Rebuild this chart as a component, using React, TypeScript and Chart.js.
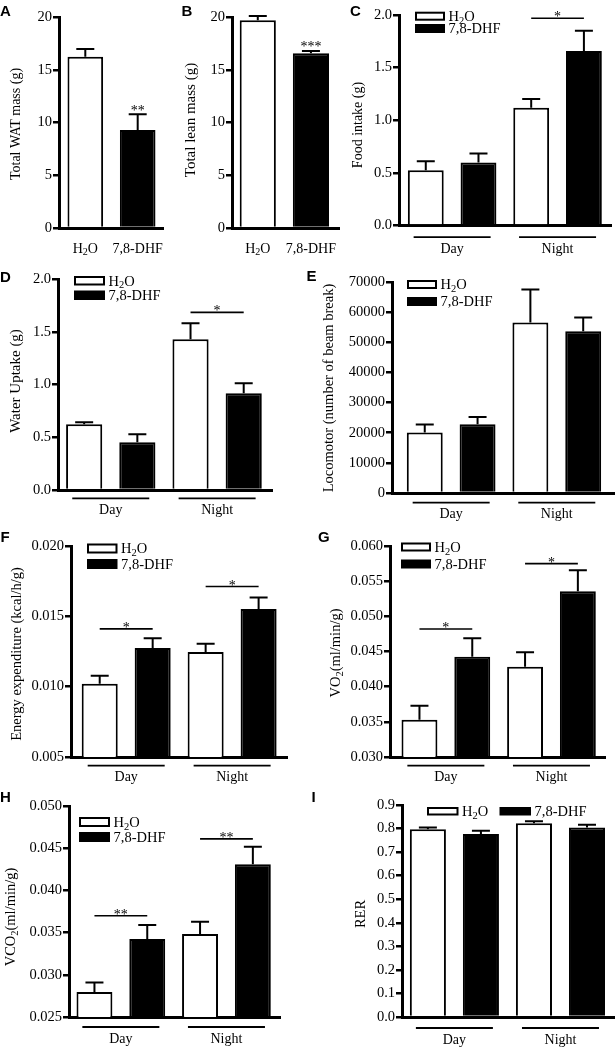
import React, { useEffect, useRef } from 'react';
import { Chart, registerables } from 'chart.js';

Chart.register(...registerables);

const SERIF = '"Liberation Serif", "Times New Roman", Times, serif';
const SANS = '"Liberation Sans", Arial, Helvetica, sans-serif';

// ---------------- data ----------------
const treatments = ['H_2O', '7,8-DHF'];
const periods = ['Day', 'Night'];

// A: total WAT mass (g)
const watMass = [16.24, 9.29];
const watMassSem = [0.73, 1.49];
const watStars = ['', '**'];

// B: total lean mass (g)
const leanMass = [19.7, 16.56];
const leanMassSem = [0.4, 0.22];
const leanStars = ['', '***'];

// C: food intake (g)
const foodH2O = [0.526, 1.118];
const foodH2OSem = [0.085, 0.083];
const foodDHF = [0.599, 1.658];
const foodDHFSem = [0.086, 0.193];
const foodSig = [null, 1.969];
const foodStars = ['', '*'];

// D: water uptake (g)
const waterH2O = [0.623, 1.428];
const waterH2OSem = [0.019, 0.152];
const waterDHF = [0.452, 0.917];
const waterDHFSem = [0.076, 0.094];
const waterSig = [null, 1.684];
const waterStars = ['', '*'];

// E: locomotor (beam breaks)
const locoH2O = [20040, 56530];
const locoH2OSem = [2650, 10950];
const locoDHF = [22790, 53650];
const locoDHFSem = [2430, 4540];
const locoSig = [null, null];
const locoStars = ['', ''];

// F: energy expenditure (kcal/h/g)
const eeH2O = [0.01021, 0.01246];
const eeH2OSem = [0.00056, 0.00059];
const eeDHF = [0.01274, 0.01553];
const eeDHFSem = [0.00071, 0.00081];
const eeSig = [0.01411, 0.01712];
const eeStars = ['*', '*'];

// G: VO2 (ml/min/g)
const vo2H2O = [0.03529, 0.04284];
const vo2H2OSem = [0.00198, 0.00205];
const vo2DHF = [0.04426, 0.05358];
const vo2DHFSem = [0.00261, 0.00297];
const vo2Sig = [0.0482, 0.0575];
const vo2Stars = ['*', '*'];

// H: VCO2 (ml/min/g)
const vco2H2O = [0.02795, 0.03484];
const vco2H2OSem = [0.00114, 0.00146];
const vco2DHF = [0.03425, 0.04311];
const vco2DHFSem = [0.00165, 0.00205];
const vco2Sig = [0.037, 0.0461];
const vco2Stars = ['**', '**'];

// I: RER
const rerH2O = [0.797, 0.822];
const rerH2OSem = [0.008, 0.009];
const rerDHF = [0.777, 0.805];
const rerDHFSem = [0.014, 0.011];
const rerSig = [null, null];
const rerStars = ['', ''];

// ---------------- layout / styling ----------------
type Legend = { w: number; h: number; items: [number, number][] };
type PanelCfg = {
  letter: string;
  letterAt: [number, number];
  box: [number, number, number, number];
  plot: [number, number, number, number];
  xRange: [number, number];
  y: [number, number, number, number];
  title: string;
  titleAt: [number, number];
  titleSize: number;
  kind: 'pair' | 'grouped';
  means?: number[];
  sems?: number[];
  stars?: string[];
  h2o?: number[];
  h2oSem?: number[];
  dhf?: number[];
  dhfSem?: number[];
  sig?: (number | null)[];
  sigStars?: string[];
  legend?: Legend;
  under?: [number, number];
  labelDy?: number;
};

const panels: PanelCfg[] = [
  {
    letter: 'A', letterAt: [0, 15.5], box: [0, 0, 172, 262], plot: [59, 163, 17, 228],
    xRange: [0.498, 2.483], y: [0, 20, 5, 0],
    title: 'Total WAT mass (g)', titleAt: [15, 124], titleSize: 14,
    kind: 'pair', means: watMass, sems: watMassSem, stars: watStars, labelDy: 20,
  },
  {
    letter: 'B', letterAt: [181.5, 15.5], box: [172, 0, 178, 262], plot: [232, 339, 17, 228],
    xRange: [0.515, 2.528], y: [0, 20, 5, 0],
    title: 'Total lean mass (g)', titleAt: [190, 120], titleSize: 15,
    kind: 'pair', means: leanMass, sems: leanMassSem, stars: leanStars, labelDy: 20,
  },
  {
    letter: 'C', letterAt: [350, 15.5], box: [350, 0, 265, 262], plot: [399, 611, 15, 225.5],
    xRange: [0.496, 2.507], y: [0, 2, 0.5, 1],
    title: 'Food intake (g)', titleAt: [357, 125], titleSize: 14,
    kind: 'grouped', h2o: foodH2O, h2oSem: foodH2OSem, dhf: foodDHF, dhfSem: foodDHFSem,
    sig: foodSig, sigStars: foodStars,
    legend: { w: 30, h: 9, items: [[415, 11.7], [415, 24]] }, under: [11.7, 22.7],
  },
  {
    letter: 'D', letterAt: [0, 282], box: [0, 262, 300, 266], plot: [58, 272, 279, 490],
    xRange: [0.504, 2.516], y: [0, 2, 0.5, 1],
    title: 'Water Uptake (g)', titleAt: [15, 381], titleSize: 15,
    kind: 'grouped', h2o: waterH2O, h2oSem: waterH2OSem, dhf: waterDHF, dhfSem: waterDHFSem,
    sig: waterSig, sigStars: waterStars,
    legend: { w: 31, h: 9.5, items: [[74, 276], [74, 290.5]] }, under: [8.3, 19],
  },
  {
    letter: 'E', letterAt: [306.5, 280.5], box: [300, 262, 315, 266], plot: [392, 615, 282, 493],
    xRange: [0.44, 2.551], y: [0, 70000, 10000, 0],
    title: 'Locomotor (number of beam break)', titleAt: [328, 388], titleSize: 14.5,
    kind: 'grouped', h2o: locoH2O, h2oSem: locoH2OSem, dhf: locoDHF, dhfSem: locoDHFSem,
    sig: locoSig, sigStars: locoStars,
    legend: { w: 30, h: 9, items: [[407, 280], [407, 297]] }, under: [9.6, 20],
  },
  {
    letter: 'F', letterAt: [0.5, 542], box: [0, 520, 300, 270], plot: [71, 287, 546, 757],
    xRange: [0.479, 2.518], y: [0.005, 0.02, 0.005, 3],
    title: 'Energy expenditure (kcal/h/g)', titleAt: [16, 654], titleSize: 14.5,
    kind: 'grouped', h2o: eeH2O, h2oSem: eeH2OSem, dhf: eeDHF, dhfSem: eeDHFSem,
    sig: eeSig, sigStars: eeStars,
    legend: { w: 30.5, h: 10, items: [[87, 543.5], [87, 559]] }, under: [8.7, 19.4],
  },
  {
    letter: 'G', letterAt: [318, 542], box: [300, 520, 315, 270], plot: [390, 605, 546, 757],
    xRange: [0.471, 2.507], y: [0.03, 0.06, 0.005, 3],
    title: 'VO_2(ml/min/g)', titleAt: [335, 653], titleSize: 14.5,
    kind: 'grouped', h2o: vo2H2O, h2oSem: vo2H2OSem, dhf: vo2DHF, dhfSem: vo2DHFSem,
    sig: vo2Sig, sigStars: vo2Stars,
    legend: { w: 30, h: 9, items: [[401, 542.5], [401, 559.5]] }, under: [8.7, 19.4],
  },
  {
    letter: 'H', letterAt: [0, 802], box: [0, 782, 300, 266], plot: [69, 280, 806, 1017],
    xRange: [0.509, 2.507], y: [0.025, 0.05, 0.005, 3],
    title: 'VCO_2(ml/min/g)', titleAt: [10, 917], titleSize: 14.5,
    kind: 'grouped', h2o: vco2H2O, h2oSem: vco2H2OSem, dhf: vco2DHF, dhfSem: vco2DHFSem,
    sig: vco2Sig, sigStars: vco2Stars,
    legend: { w: 31, h: 10, items: [[79, 817], [79, 832]] }, under: [10, 21],
  },
  {
    letter: 'I', letterAt: [311.5, 802], box: [300, 782, 315, 266], plot: [402, 615, 805, 1017],
    xRange: [0.506, 2.514], y: [0, 0.9, 0.1, 1],
    title: 'RER', titleAt: [360, 914], titleSize: 14.5,
    kind: 'grouped', h2o: rerH2O, h2oSem: rerH2OSem, dhf: rerDHF, dhfSem: rerDHFSem,
    sig: rerSig, sigStars: rerStars,
    legend: { w: 31.5, h: 8.5, items: [[427, 807], [499.5, 807]] }, under: [11, 22.7],
  },
];

// ---------------- text helpers ----------------
function parseRich(text: string) {
  const parts: { t: string; sub: boolean }[] = [];
  let buf = '';
  for (let i = 0; i < text.length; i++) {
    if (text[i] === '_' && i + 1 < text.length) {
      if (buf) parts.push({ t: buf, sub: false });
      buf = '';
      parts.push({ t: text[i + 1], sub: true });
      i++;
    } else buf += text[i];
  }
  if (buf) parts.push({ t: buf, sub: false });
  return parts;
}

function drawRich(
  ctx: CanvasRenderingContext2D,
  text: string,
  x: number,
  yMid: number,
  size: number,
  align: 'left' | 'center' | 'right',
) {
  const parts = parseRich(text);
  const subSize = size * 0.72;
  const widths = parts.map((p) => {
    ctx.font = `${p.sub ? subSize : size}px ${SERIF}`;
    return ctx.measureText(p.t).width;
  });
  const total = widths.reduce((a, b) => a + b, 0);
  let cx = align === 'center' ? x - total / 2 : align === 'right' ? x - total : x;
  const base = yMid + size * 0.33;
  ctx.textAlign = 'left';
  ctx.textBaseline = 'alphabetic';
  ctx.fillStyle = '#000';
  parts.forEach((p, i) => {
    ctx.font = `${p.sub ? subSize : size}px ${SERIF}`;
    ctx.fillText(p.t, cx, base + (p.sub ? size * 0.2 : 0));
    cx += widths[i];
  });
}

// ---------------- chart building ----------------
function makePlugin(p: PanelCfg) {
  const [bl, bt] = p.box;
  const seriesMeans = (di: number) => (p.kind === 'pair' ? p.means! : di === 0 ? p.h2o! : p.dhf!);
  const seriesSems = (di: number) => (p.kind === 'pair' ? p.sems! : di === 0 ? p.h2oSem! : p.dhfSem!);
  return {
    id: 'panelExtras',
    afterDatasetsDraw(chart: any) {
      const ctx: CanvasRenderingContext2D = chart.ctx;
      const ys = chart.scales.y;
      ctx.save();
      ctx.strokeStyle = '#000';
      ctx.lineWidth = 2;
      chart.data.datasets.forEach((_ds: any, di: number) => {
        const means = seriesMeans(di);
        const sems = seriesSems(di);
        chart.getDatasetMeta(di).data.forEach((el: any, j: number) => {
          const x = el.x;
          const y0 = el.y;
          const y1 = ys.getPixelForValue(means[j] + sems[j]);
          ctx.beginPath();
          ctx.moveTo(x, y0);
          ctx.lineTo(x, y1);
          ctx.moveTo(x - 9, y1);
          ctx.lineTo(x + 9, y1);
          ctx.stroke();
        });
      });
      ctx.restore();
    },
    afterDraw(chart: any) {
      const ctx: CanvasRenderingContext2D = chart.ctx;
      const ys = chart.scales.y;
      const bottom = chart.chartArea.bottom;
      ctx.save();
      ctx.fillStyle = '#000';
      ctx.strokeStyle = '#000';

      // panel letter
      ctx.font = `bold 15px ${SANS}`;
      ctx.textAlign = 'left';
      ctx.textBaseline = 'alphabetic';
      ctx.fillText(p.letter, p.letterAt[0] - bl, p.letterAt[1] - bt);

      // y title
      ctx.save();
      ctx.translate(p.titleAt[0] - bl, p.titleAt[1] - bt);
      ctx.rotate(-Math.PI / 2);
      drawRich(ctx, p.title, 0, 0, p.titleSize, 'center');
      ctx.restore();

      const starFont = `14px ${SERIF}`;

      if (p.kind === 'pair') {
        const meta = chart.getDatasetMeta(0);
        meta.data.forEach((el: any, j: number) => {
          drawRich(ctx, treatments[j], el.x, bottom + (p.labelDy || 20), 14, 'center');
          const star = p.stars![j];
          if (star) {
            const top = ys.getPixelForValue(p.means![j] + p.sems![j]);
            ctx.font = starFont;
            ctx.textAlign = 'center';
            ctx.textBaseline = 'alphabetic';
            ctx.fillStyle = '#000';
            ctx.fillText(star, el.x, top + 0.5);
          }
        });
      } else {
        const m0 = chart.getDatasetMeta(0).data;
        const m1 = chart.getDatasetMeta(1).data;
        const [uDy, lDy] = p.under!;
        periods.forEach((name, g) => {
          const c = (m0[g].x + m1[g].x) / 2;
          ctx.lineWidth = 1.8;
          ctx.beginPath();
          ctx.moveTo(c - 38.5, bottom + uDy);
          ctx.lineTo(c + 38.5, bottom + uDy);
          ctx.stroke();
          drawRich(ctx, name, c, bottom + lDy, 14, 'center');
          const lvl = p.sig![g];
          if (lvl !== null && lvl !== undefined) {
            const y = ys.getPixelForValue(lvl);
            ctx.lineWidth = 1.6;
            ctx.beginPath();
            ctx.moveTo(m0[g].x, y);
            ctx.lineTo(m1[g].x, y);
            ctx.stroke();
            ctx.font = starFont;
            ctx.textAlign = 'center';
            ctx.textBaseline = 'alphabetic';
            ctx.fillStyle = '#000';
            ctx.fillText(p.sigStars![g], (m0[g].x + m1[g].x) / 2, y + 3);
          }
        });

        // legend
        const lg = p.legend!;
        lg.items.forEach(([ax, ay], k) => {
          const x = ax - bl;
          const y = ay - bt;
          if (k === 0) {
            ctx.fillStyle = '#fff';
            ctx.fillRect(x, y, lg.w, lg.h);
            ctx.lineWidth = 2;
            ctx.strokeStyle = '#000';
            ctx.strokeRect(x + 1, y + 1, lg.w - 2, lg.h - 2);
          } else {
            ctx.fillStyle = '#000';
            ctx.fillRect(x, y, lg.w, lg.h);
          }
          drawRich(ctx, treatments[k], x + lg.w + 3.5, y + lg.h / 2, 14.5, 'left');
        });
      }
      ctx.restore();
    },
  };
}

function buildConfig(p: PanelCfg): any {
  const [bl, bt, bw, bh] = p.box;
  const [x0, x1, top, bot] = p.plot;
  const [yMin, yMax, yStep, yDec] = p.y;
  const barStyle = { borderColor: '#000', borderWidth: 2, categoryPercentage: 1, barPercentage: 0.68 };
  let datasets: any[];
  let xTicks: number[];
  if (p.kind === 'pair') {
    xTicks = treatments.map((_t, i) => i + 1);
    datasets = [
      {
        label: p.title,
        data: p.means!.map((v, i) => ({ x: i + 1, y: v })),
        backgroundColor: ['#ffffff', '#000000'],
        ...barStyle,
      },
    ];
  } else {
    xTicks = periods.map((_t, i) => i + 1);
    datasets = [
      { label: 'H2O', data: p.h2o!.map((v, i) => ({ x: i + 1, y: v })), backgroundColor: '#ffffff', ...barStyle },
      { label: '7,8-DHF', data: p.dhf!.map((v, i) => ({ x: i + 1, y: v })), backgroundColor: '#000000', ...barStyle },
    ];
  }
  return {
    type: 'bar',
    data: { datasets },
    options: {
      responsive: false,
      maintainAspectRatio: false,
      animation: false,
      devicePixelRatio: 1,
      events: [],
      layout: { padding: { left: 0, top: top - bt, right: bl + bw - x1, bottom: 0 } },
      plugins: { legend: { display: false }, tooltip: { enabled: false }, title: { display: false } },
      scales: {
        x: {
          type: 'linear',
          min: p.xRange[0],
          max: p.xRange[1],
          offset: false,
          z: 1,
          grid: { display: false },
          ticks: { display: false },
          border: { display: true, color: '#000', width: 3 },
          afterBuildTicks: (s: any) => {
            s.ticks = xTicks.map((v) => ({ value: v }));
          },
          afterFit: (s: any) => {
            s.height = bt + bh - bot;
          },
        },
        y: {
          type: 'linear',
          min: yMin,
          max: yMax,
          z: 1,
          ticks: {
            stepSize: yStep,
            padding: 1,
            color: '#000',
            font: { family: SERIF, size: 14.5 },
            callback: (v: any) => Number(v).toFixed(yDec),
          },
          grid: { display: true, drawOnChartArea: false, drawTicks: true, tickLength: 6, lineWidth: 2.5, color: '#000' },
          border: { display: true, color: '#000', width: 3 },
          afterFit: (s: any) => {
            s.width = x0 - bl;
          },
        },
      },
    },
    plugins: [makePlugin(p)],
  };
}

function Panel({ cfg }: { cfg: PanelCfg }) {
  const ref = useRef<HTMLCanvasElement>(null);
  useEffect(() => {
    const chart = new Chart(ref.current as HTMLCanvasElement, buildConfig(cfg));
    return () => chart.destroy();
  }, [cfg]);
  const [l, t, w, h] = cfg.box;
  return (
    <canvas
      ref={ref}
      width={w}
      height={h}
      style={{ position: 'absolute', left: l, top: t, width: w, height: h, display: 'block' }}
    />
  );
}

export default function App() {
  return (
    <div
      style={{
        position: 'absolute',
        left: 0,
        top: 0,
        width: 615,
        height: 1048,
        background: '#ffffff',
        overflow: 'hidden',
      }}
    >
      {panels.map((p) => (
        <Panel key={p.letter} cfg={p} />
      ))}
    </div>
  );
}
